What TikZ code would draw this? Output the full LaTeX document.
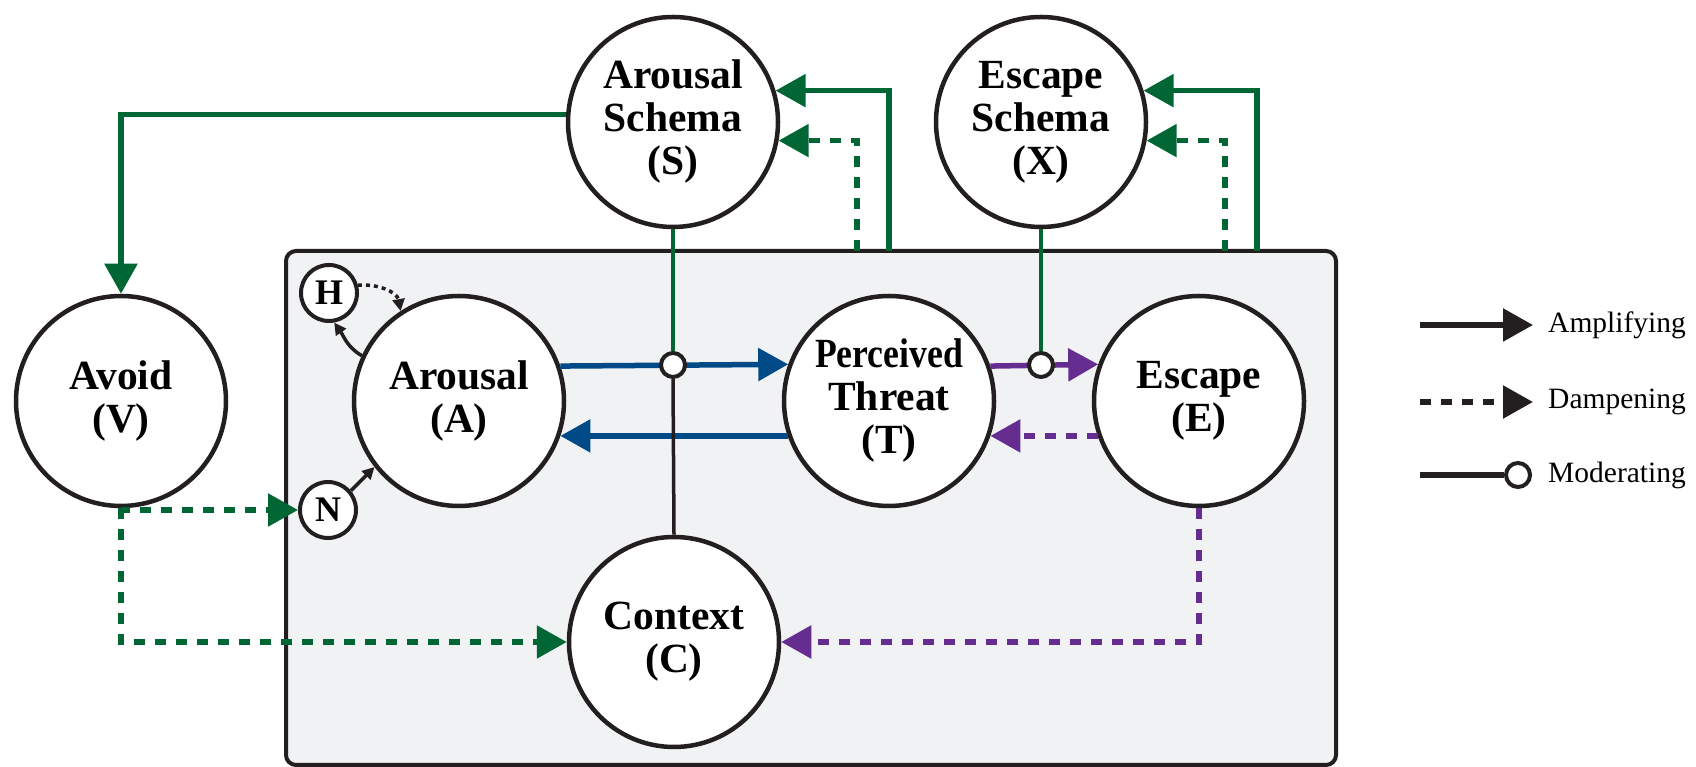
\documentclass[tikz,border=0pt]{standalone}
\usepackage{fontspec}
\setmainfont{Liberation Serif}
\usetikzlibrary{arrows.meta,calc}
\definecolor{dgreen}{RGB}{0,102,51}
\definecolor{dblue}{RGB}{0,75,135}
\definecolor{dpurple}{RGB}{102,45,145}
\definecolor{boxfill}{RGB}{241,242,244}
\definecolor{ink}{RGB}{35,31,32}
\begin{document}
\begin{tikzpicture}[x=1pt,y=1pt,
  bignode/.style={circle, draw=ink, line width=4.5pt, fill=white, minimum size=210pt, inner sep=0pt, align=center, font=\fontsize{41.5}{43}\selectfont\bfseries},
  smallnode/.style={circle, draw=ink, line width=4pt, fill=white, minimum size=56pt, inner sep=0pt, font=\fontsize{36}{40}\selectfont\bfseries},
  modc/.style={circle, draw=ink, line width=4pt, fill=white, minimum size=24pt, inner sep=0pt},
  tipbig/.style={-{Triangle[length=30pt,width=32pt]}},
  tipsmall/.style={-{Triangle[length=12pt,width=12pt]}},
  conn/.style={line width=5.5pt},
  thin/.style={line width=3.5pt, draw=ink},
  dsh/.style={dash pattern=on 11pt off 10pt},
  legtext/.style={anchor=west, inner sep=0pt, font=\fontsize{29.5}{32}\selectfont},
]
\useasboundingbox (0,0) rectangle (1696,767);

% system box
\draw[rounded corners=10pt, line width=4pt, draw=ink, fill=boxfill] (286,2) rectangle (1336,516);

% nodes
\node[bignode] (S) at (673,645) {Arousal\\Schema\\(S)};
\node[bignode] (X) at (1041,645) {Escape\\Schema\\(X)};
\node[bignode] (V) at (121,366) {Avoid\\(V)};
\node[bignode] (A) at (459,366) {Arousal\\(A)};
\node[bignode] (T) at (889,366) {\scalebox{0.86}[1]{Perceived}\\Threat\\(T)};
\node[bignode] (E) at (1199,366) {Escape\\(E)};
\node[bignode] (C) at (674,125) {Context\\(C)};
\node[smallnode] (H) at (329,474) {H};
\node[smallnode] (N) at (328,257) {N};

% coordinates on the box top
\coordinate (sa) at (889,516);
\coordinate (sd) at (857,516);
\coordinate (xa) at (1257,516);
\coordinate (xd) at (1225,516);
\coordinate (m1) at (673,402);
\coordinate (m2) at (1041,402);

% blue arrows
\draw[conn, dblue, tipbig] (A.19.7) -- (T.160.3);
\draw[conn, dblue, tipbig] (T.199.7) -- (A.-19.7);
% purple arrows
\draw[conn, dpurple, tipbig] (T.19.7) -- (E.160.3);
\draw[conn, dpurple, tipbig, dsh] (E.199.7) -- (T.-19.7);
\draw[conn, dpurple, tipbig, dsh] (E.south) |- (C.east);

% green arrows
\draw[conn, dgreen, tipbig] (sa) |- (S.17.4);
\draw[conn, dgreen, tipbig, dsh] (sd) |- (S.-10.8);
\draw[conn, dgreen, tipbig] (xa) |- (X.17.4);
\draw[conn, dgreen, tipbig, dsh] (xd) |- (X.-10.8);
\draw[conn, dgreen, tipbig] (S.176.8) -| (V.north);
\draw[conn, dgreen, tipbig, dsh] (V.south) |- (N.west);
\draw[conn, dgreen, tipbig, dsh] (V.south) |- (C.west);

% moderators
\node[modc] (M1) at (m1) {};
\node[modc] (M2) at (m2) {};
\draw[line width=3.5pt, dgreen] (S.south) -- (M1.north);
\draw[line width=3.5pt, ink] (M1.south) -- (C.north);
\draw[line width=3.5pt, dgreen] (X.south) -- (M2.north);

% small arrows around arousal
\draw[thin, tipsmall, dash pattern=on 4pt off 4pt] (H.15) to[out=5,in=100] (A.123);
\draw[thin, tipsmall] (A.155) to[out=150,in=-55] (H.280);
\draw[thin, tipsmall] (N.40) -- (A.218);

% legend
\coordinate (l1) at (1420,442);
\coordinate (l1e) at (1533,442);
\coordinate (l2) at (1420,365);
\coordinate (l2e) at (1533,365);
\coordinate (l3) at (1420,292);
\node[modc] (lm) at (1518,292) {};
\draw[conn, ink, tipbig] (l1) -- (l1e);
\draw[conn, ink, tipbig, dsh] (l2) -- (l2e);
\draw[conn, ink] (l3) -- (lm.west);
\node[legtext] (t1) at (1548,442) {Amplifying};
\node[legtext] (t2) at (1548,365) {Dampening};
\node[legtext] (t3) at (1548,292) {Moderating};
\end{tikzpicture}
\end{document}
